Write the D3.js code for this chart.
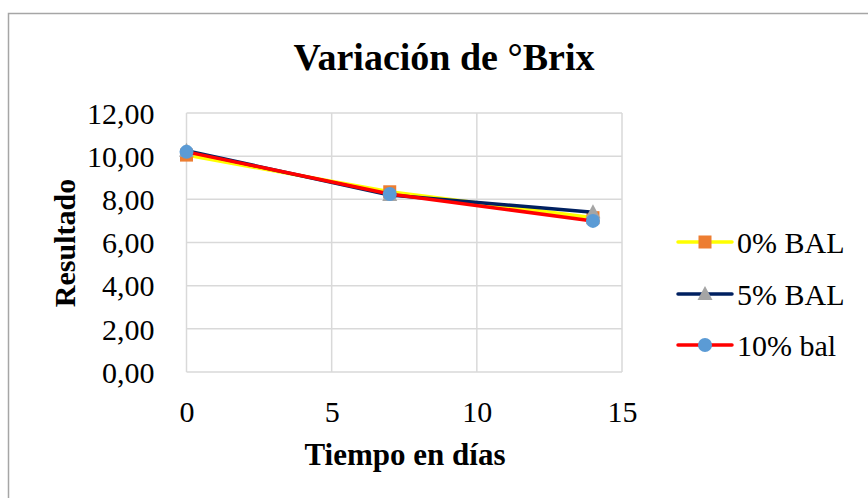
<!DOCTYPE html>
<html lang="es">
<head>
<meta charset="UTF-8">
<title>Variación de °Brix</title>
<script src="https://cdn.jsdelivr.net/npm/d3@7/dist/d3.min.js"></script>
<style>
    body { margin: 0; background: #fff; }
    svg { display: block; font-family: 'Liberation Serif', 'Times New Roman', serif; }
</style>
</head>
<body>
<svg id="chart" width="868" height="498"></svg>
<script>
    // datos
    const dias = [0, 7, 14];
    const serieNombres = ["0% BAL", "5% BAL", "10% bal"];
    const bal0 = [10.05, 8.35, 7.15];
    const bal5 = [10.25, 8.2, 7.4];
    const bal10 = [10.2, 8.25, 7.0];
    const yTicks = [0, 2, 4, 6, 8, 10, 12];
    const xTicks = [0, 5, 10, 15];

    const series = [
        { name: serieNombres[0], values: bal0, line: "#FFFF00", mark: "#ED7D31", shape: "square" },
        { name: serieNombres[1], values: bal5, line: "#002060", mark: "#A5A5A5", shape: "triangle" },
        { name: serieNombres[2], values: bal10, line: "#FF0000", mark: "#5B9BD5", shape: "circle" }
    ];

    const svg = d3.select("#chart");

    // marco exterior
    svg.append("rect")
        .attr("x", 8.5).attr("y", 13.5)
        .attr("width", 870).attr("height", 500)
        .attr("fill", "none").attr("stroke", "#a6a6a6").attr("stroke-width", 1.5);

    const x = d3.scaleLinear().domain([0, 15]).range([186.5, 622]);
    const y = d3.scaleLinear().domain([0, 12]).range([372, 113]);

    const grid = svg.append("g");
    grid.selectAll("line.h").data(yTicks).enter().append("line")
        .attr("x1", x(0)).attr("x2", x(15))
        .attr("y1", d => y(d)).attr("y2", d => y(d))
        .attr("stroke", "#d9d9d9").attr("stroke-width", 1.5);
    grid.selectAll("line.v").data(xTicks).enter().append("line")
        .attr("y1", y(0)).attr("y2", y(12))
        .attr("x1", d => x(d)).attr("x2", d => x(d))
        .attr("stroke", "#d9d9d9").attr("stroke-width", 1.5);

    // ejes
    const yAxis = svg.append("g")
        .attr("transform", `translate(${x(0) - 29},0)`)
        .call(d3.axisLeft(y).tickValues(yTicks).tickSize(0).tickFormat(d => d3.format(".2f")(d).replace(".", ",")));
    yAxis.select(".domain").remove();
    yAxis.selectAll("text").attr("font-family", "'Liberation Serif', serif")
        .attr("font-size", 30).attr("fill", "#000").attr("dy", "0.34em");

    const xAxis = svg.append("g")
        .attr("transform", `translate(0,${y(0) + 26})`)
        .call(d3.axisBottom(x).tickValues(xTicks).tickSize(0));
    xAxis.select(".domain").remove();
    xAxis.selectAll("text").attr("font-family", "'Liberation Serif', serif")
        .attr("font-size", 30).attr("fill", "#000").attr("dy", "0.71em");

    // titulos
    svg.append("text").attr("x", 444).attr("y", 70)
        .attr("text-anchor", "middle").attr("font-size", 38).attr("font-weight", "bold")
        .text("Variación de °Brix");
    svg.append("text").attr("x", 405).attr("y", 465)
        .attr("text-anchor", "middle").attr("font-size", 31).attr("font-weight", "bold")
        .text("Tiempo en días");
    svg.append("text")
        .attr("transform", "translate(75,243) rotate(-90)")
        .attr("text-anchor", "middle").attr("font-size", 30).attr("font-weight", "bold")
        .text("Resultado");

    const line = d3.line().x((d, i) => x(dias[i])).y(d => y(d));

    function marker(g, s, cx, cy) {
        if (s.shape === "square") {
            g.append("rect").attr("x", cx - 6.5).attr("y", cy - 6.5)
                .attr("width", 13).attr("height", 13).attr("fill", s.mark);
        } else if (s.shape === "triangle") {
            g.append("path").attr("d", `M${cx},${cy - 8} L${cx + 7.5},${cy + 6} L${cx - 7.5},${cy + 6} Z`)
                .attr("fill", s.mark);
        } else {
            g.append("circle").attr("cx", cx).attr("cy", cy).attr("r", 7).attr("fill", s.mark);
        }
    }

    series.forEach(s => {
        const g = svg.append("g");
        g.append("path").datum(s.values)
            .attr("d", line).attr("fill", "none")
            .attr("stroke", s.line).attr("stroke-width", 3.5)
            .attr("stroke-linejoin", "round").attr("stroke-linecap", "round");
        s.values.forEach((v, i) => marker(g, s, x(dias[i]), y(v)));
    });

    // leyenda
    const leyY = [242, 294, 345];
    series.forEach((s, i) => {
        const g = svg.append("g");
        g.append("line").attr("x1", 678).attr("x2", 732)
            .attr("y1", leyY[i]).attr("y2", leyY[i])
            .attr("stroke", s.line).attr("stroke-width", 3.5).attr("stroke-linecap", "round");
        marker(g, s, 705, leyY[i]);
        g.append("text").attr("x", 737).attr("y", leyY[i]).attr("dy", "0.35em")
            .attr("font-size", 30).text(s.name);
    });
</script>
</body>
</html>
